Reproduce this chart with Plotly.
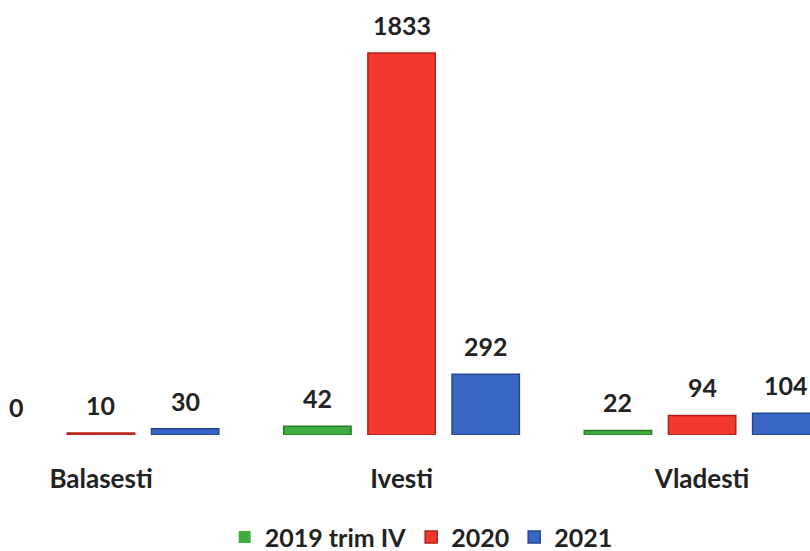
import plotly.graph_objects as go

categories = ["Balasesti", "Ivesti", "Vladesti"]
series_names = ["2019 trim IV", "2020", "2021"]
v2019 = [0, 42, 22]
v2020 = [10, 1833, 94]
v2021 = [30, 292, 104]
colors = ["#3fae3f", "#f2392e", "#3a67c6"]
edges = ["#2a7a2a", "#b02018", "#25458f"]

values = [v2019, v2020, v2021]

fig = go.Figure()
for name, vals, c, e in zip(series_names, values, colors, edges):
    fig.add_trace(go.Bar(
        x=categories, y=vals, name=name,
        marker=dict(color=c, line=dict(color=e, width=[0 if v == 0 else 1.5 for v in vals])),
    ))

# value labels via annotations, offset per series within the group
n = len(values)
for si, vals in enumerate(values):
    off = (si - (n - 1) / 2) * 0.28
    for ci, v in enumerate(vals):
        fig.add_annotation(
            x=ci + off, y=v, text=str(v), showarrow=False,
            yshift=28, yanchor="middle", xanchor="center",
            font=dict(family="Lato", size=25, color="#222222", weight="bold"),
        )

fig.update_layout(
    width=810, height=551,
    margin=dict(l=0, r=0, t=0, b=116, autoexpand=False),
    paper_bgcolor="white", plot_bgcolor="white",
    barmode="group", bargap=0.16, bargroupgap=0.2,
    showlegend=True,
    legend=dict(
        orientation="h", x=0.52, xanchor="center",
        yref="container", y=0.025, yanchor="middle",
        font=dict(family="Lato", size=25, color="#222222", weight="bold"),
        itemwidth=30, traceorder="normal",
    ),
    xaxis=dict(
        range=[-0.336, 2.359], showgrid=False, zeroline=False, showline=False,
        ticks="", ticklabelstandoff=26,
        tickfont=dict(family="Lato", size=26, color="#222222", weight="bold"),
    ),
    yaxis=dict(range=[0, 2087], visible=False, showgrid=False, zeroline=False),
)

fig.write_html("out.html")
